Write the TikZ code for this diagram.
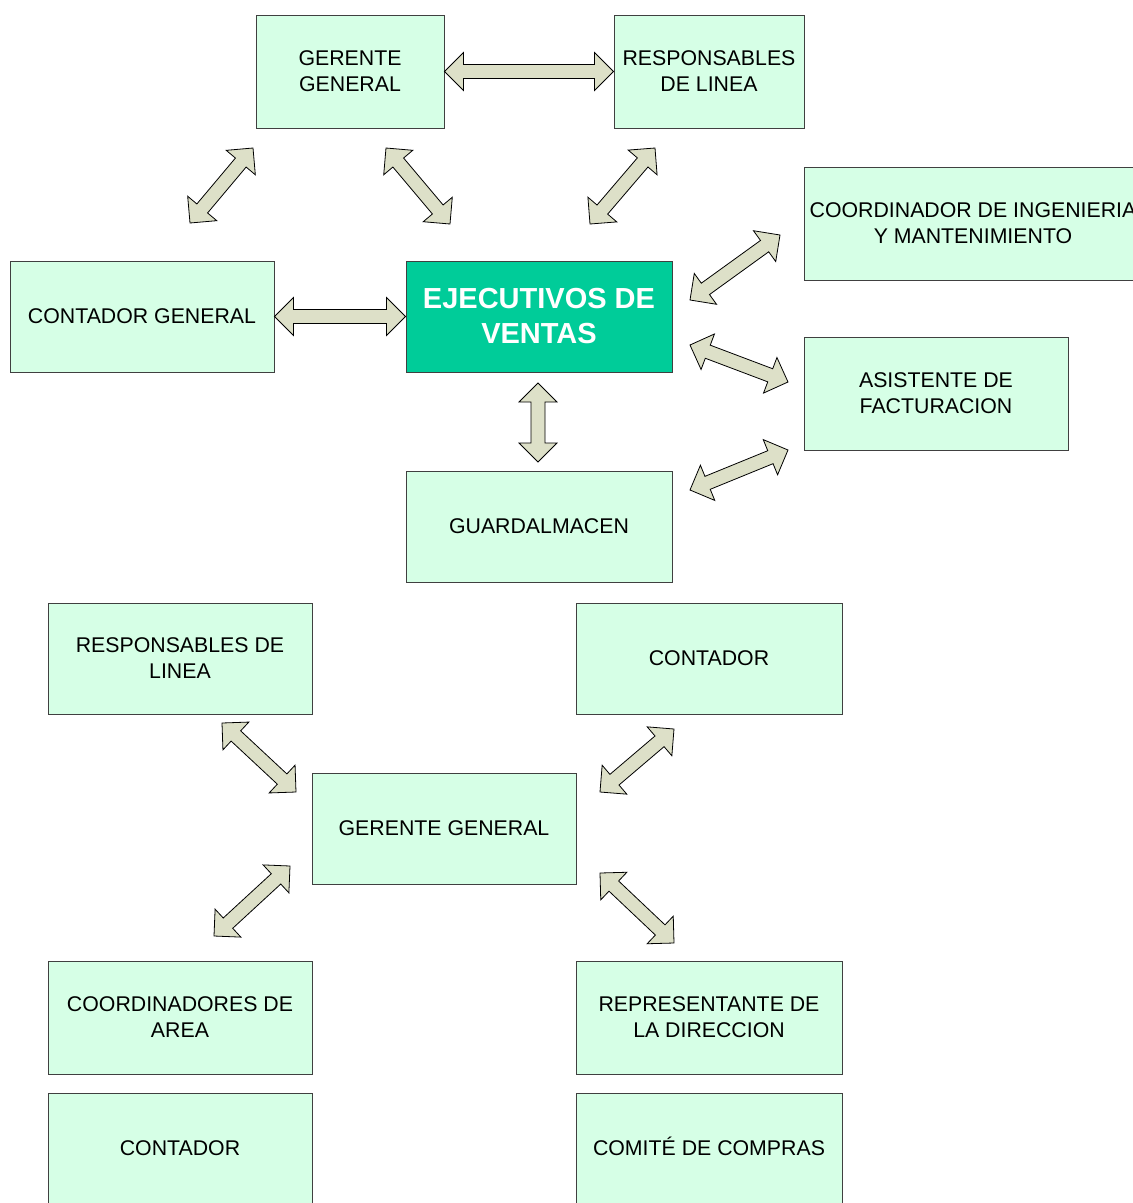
\documentclass[tikz,border=0pt]{standalone}
\usepackage{fontspec}
\setmainfont{Liberation Sans}
\usetikzlibrary{calc}

\definecolor{mint}{RGB}{214,255,230}
\definecolor{salesgreen}{RGB}{0,204,153}
\definecolor{arrowfill}{RGB}{221,224,200}

\tikzset{
  box/.style={draw=black!75, line width=0.9pt, fill=mint, rectangle, inner sep=0pt,
    align=center, font=\fontsize{21.3}{26}\selectfont},
  mainbox/.style={box, fill=salesgreen, text=white,
    font=\fontsize{29}{35}\selectfont\bfseries},
  blockarrow/.style={draw=black, line width=0.8pt, fill=arrowfill, line join=miter}
}

% Double block arrow between two named tip coordinates
\newcommand\dblarrow[3]{%
  \coordinate (#1-a) at #2;
  \coordinate (#1-b) at #3;
  \coordinate (#1-p) at ($(#1-a)!19pt!(#1-b)$);
  \coordinate (#1-q) at ($(#1-b)!19pt!(#1-a)$);
  \draw[blockarrow] (#1-a)
    -- ($(#1-p)!19pt!90:(#1-b)$) -- ($(#1-p)!7pt!90:(#1-b)$)
    -- ($(#1-q)!7pt!90:(#1-b)$) -- ($(#1-q)!19pt!90:(#1-b)$)
    -- (#1-b)
    -- ($(#1-q)!19pt!-90:(#1-b)$) -- ($(#1-q)!7pt!-90:(#1-b)$)
    -- ($(#1-p)!7pt!-90:(#1-b)$) -- ($(#1-p)!19pt!-90:(#1-b)$)
    -- cycle;
}

\begin{document}
\begin{tikzpicture}[x=1pt,y=-1pt]
\useasboundingbox (0,0) rectangle (1133,1203);
\fill[white] (0,0) rectangle (1133,1203);
\clip (0,0) rectangle (1133,1203);

% upper chart
\node[box, minimum width=188, minimum height=113] (gg1) at (350,71.5) {GERENTE\\GENERAL};
\node[box, minimum width=190, minimum height=113] (rl1) at (709,71.5) {RESPONSABLES\\DE LINEA};
\node[box, minimum width=338, minimum height=113] (ci) at (973,223.5) {COORDINADOR DE INGENIERIA\\Y MANTENIMIENTO};
\node[box, minimum width=264, minimum height=111] (cg) at (142,316.5) {CONTADOR GENERAL};
\node[mainbox, minimum width=266, minimum height=111] (ev) at (539,316.5) {EJECUTIVOS DE\\VENTAS};
\node[box, minimum width=264, minimum height=113] (af) at (936,393.5) {ASISTENTE DE\\FACTURACION};
\node[box, minimum width=266, minimum height=111] (ga) at (539,526.5) {GUARDALMACEN};

% lower chart
\node[box, minimum width=264, minimum height=111] (rl2) at (180,658.5) {RESPONSABLES DE\\LINEA};
\node[box, minimum width=266, minimum height=111] (co1) at (709,658.5) {CONTADOR};
\node[box, minimum width=264, minimum height=111] (gg2) at (444,828.5) {GERENTE GENERAL};
\node[box, minimum width=264, minimum height=113] (ca) at (180,1017.5) {COORDINADORES DE\\AREA};
\node[box, minimum width=266, minimum height=113] (rd) at (709,1017.5) {REPRESENTANTE DE\\LA DIRECCION};
\node[box, minimum width=264, minimum height=111] (co2) at (180,1148.5) {CONTADOR};
\node[box, minimum width=266, minimum height=111] (cc) at (709,1148.5) {COMIT\smash{É} DE COMPRAS};

% arrows of the upper chart
\dblarrow{ggrl}{(gg1.east)}{(rl1.west)}
\dblarrow{ggcg}{(190,223)}{(253,148)}
\dblarrow{ggev}{(386,148)}{(450,224)}
\dblarrow{rlev}{(655,148)}{(590,224)}
\dblarrow{cgev}{(cg.east)}{(ev.west)}
\dblarrow{evci}{(690,300)}{(780,235)}
\dblarrow{evaf}{(690,345)}{(788,382)}
\dblarrow{gaaf}{(690,490)}{(788,450)}
\dblarrow{evga}{(538,383)}{(538,462)}

% arrows of the lower chart
\dblarrow{rlgg}{(222,723)}{(296,792)}
\dblarrow{cogg}{(674,729)}{(600,792)}
\dblarrow{ggca}{(290,866)}{(214,936)}
\dblarrow{ggrd}{(600,873)}{(674,943)}
\end{tikzpicture}
\end{document}
